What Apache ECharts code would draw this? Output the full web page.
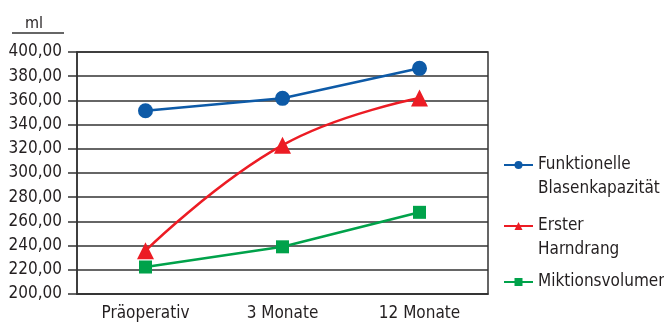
<!DOCTYPE html>
<html>
<head>
<meta charset="utf-8">
<script src="https://cdn.jsdelivr.net/npm/echarts@6/dist/echarts.min.js"></script>
<style>
html, body { margin: 0; padding: 0; background: #fff; }
#chart { width: 664px; height: 323px; }
</style>
</head>
<body>
<div id="chart"></div>
<script>
// Kategorien und Messwerte (ml)
var categories = ['Präoperativ', '3 Monate', '12 Monate'];
var kapazitaet = [351.5, 361.7, 386.5];
var harndrang = [235.8, 323, 362];
var miktion = [222.3, 239, 267.5];
var yTicks = { min: 200, max: 400, interval: 20 };

var FONT = "'Liberation Sans Narrow', 'DejaVu Sans Condensed', sans-serif";
var TEXT = '#231f20';

var myChart = echarts.init(document.getElementById('chart'));

var option = {
	animation: false,
	textStyle: { fontFamily: FONT },
	grid: {
		left: 77, right: 176, top: 52, bottom: 29,
		show: true, borderColor: '#333', borderWidth: 1.5
	},
	graphic: [
		{ type: 'text', left: 25, top: 16, style: { text: 'ml', font: '16px ' + FONT, fill: TEXT } },
		{ type: 'line', shape: { x1: 12, y1: 33, x2: 64, y2: 33 }, style: { stroke: '#333', lineWidth: 1.5 } }
	],
	legend: {
		orient: 'vertical',
		left: 503,
		top: 129,
		padding: 0,
		itemWidth: 29,
		itemHeight: 10,
		itemGap: -11,
		textStyle: { fontFamily: FONT, fontSize: 17, color: TEXT, lineHeight: 24 },
		// Leerzeile vorn, damit die erste Textzeile auf Höhe des Symbols steht
		formatter: function (name) {
			return name.indexOf('\n') >= 0 ? '\n' + name : name;
		},
		data: [
			{ name: 'Funktionelle\nBlasenkapazität' },
			{ name: 'Erster\nHarndrang' },
			{ name: 'Miktionsvolumen', textStyle: { padding: [19, 0, 19, 0] } }
		]
	},
	xAxis: {
		type: 'category',
		data: categories,
		boundaryGap: true,
		axisLine: { lineStyle: { color: '#333', width: 1.5 } },
		axisTick: {
			length: 7,
			lineStyle: { color: '#333', width: 1.5 },
			interval: function (i) { return i === 1 || i === 2; }
		},
		axisLabel: { fontFamily: FONT, fontSize: 17, color: TEXT, margin: 11, interval: 0 }
	},
	yAxis: {
		type: 'value',
		min: yTicks.min,
		max: yTicks.max,
		interval: yTicks.interval,
		axisLine: { show: true, lineStyle: { color: '#333', width: 1.5 } },
		axisTick: { show: true, length: 9, lineStyle: { color: '#333', width: 1.5 } },
		splitLine: { lineStyle: { color: '#333', width: 1.5 } },
		axisLabel: {
			fontFamily: FONT, fontSize: 17, color: TEXT, margin: 15,
			formatter: function (v) { return v.toFixed(2).replace('.', ','); }
		}
	},
	series: [
		{
			name: 'Funktionelle\nBlasenkapazität',
			type: 'line',
			data: kapazitaet,
			symbol: 'circle',
			symbolSize: 15,
			color: '#0d5aa7',
			lineStyle: { width: 2.5 }
		},
		{
			name: 'Erster\nHarndrang',
			type: 'line',
			data: harndrang,
			smooth: 0.45,
			symbol: 'triangle',
			symbolSize: 17,
			color: '#ec1c24',
			lineStyle: { width: 2.5 }
		},
		{
			name: 'Miktionsvolumen',
			type: 'line',
			data: miktion,
			symbol: 'rect',
			symbolSize: 13,
			color: '#00a24a',
			lineStyle: { width: 2.5 }
		}
	]
};

myChart.setOption(option);
</script>
</body>
</html>
